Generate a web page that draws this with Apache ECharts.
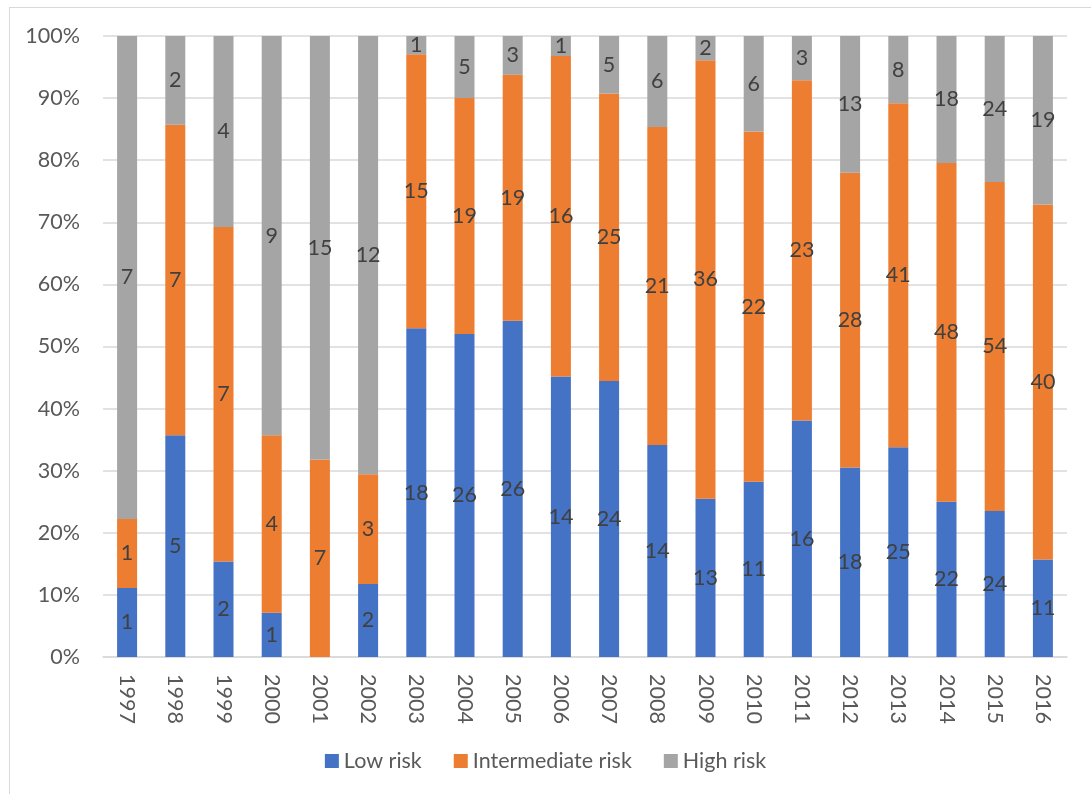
<!DOCTYPE html>
<html>
<head>
<meta charset="utf-8">
<script src="https://cdn.jsdelivr.net/npm/echarts@6/dist/echarts.min.js"></script>
<style>
  html, body { margin: 0; padding: 0; background: #ffffff; }
  #frame { position: absolute; left: 9px; top: 7px; right: 0; bottom: 0;
           border-left: 1px solid #d9d9d9; border-top: 1px solid #d9d9d9; }
  #chart { position: absolute; left: 0; top: 0; width: 1091px; height: 794px; }
</style>
</head>
<body>
<div id="frame"></div>
<div id="chart"></div>
<script>
// Years and patient counts per risk group
const years = ['1997','1998','1999','2000','2001','2002','2003','2004','2005','2006',
               '2007','2008','2009','2010','2011','2012','2013','2014','2015','2016'];
const lowRisk          = [1, 5, 2, 1, 0, 2, 18, 26, 26, 14, 24, 14, 13, 11, 16, 18, 25, 22, 24, 11];
const intermediateRisk = [1, 7, 7, 4, 7, 3, 15, 19, 19, 16, 25, 21, 36, 22, 23, 28, 41, 48, 54, 40];
const highRisk         = [7, 2, 4, 9, 15, 12, 1, 5, 3, 1, 5, 6, 2, 6, 3, 13, 8, 18, 24, 19];
const yTicks = ['0%','10%','20%','30%','40%','50%','60%','70%','80%','90%','100%'];

const totals = years.map((_, i) => lowRisk[i] + intermediateRisk[i] + highRisk[i]);
const share = arr => arr.map((v, i) => v / totals[i] * 100);

const FONT = 'Lato';
const FS = 21.5;
function makeSeries(name, counts, color) {
  return {
    name: name,
    type: 'bar',
    stack: 'total',
    barWidth: 20,
    data: share(counts),
    itemStyle: { color: color },
    label: {
      show: true,
      position: 'inside',
      color: '#404040',
      fontFamily: FONT,
      fontSize: FS,
      formatter: p => counts[p.dataIndex] === 0 ? '' : String(counts[p.dataIndex])
    }
  };
}

const chart = echarts.init(document.getElementById('chart'), null, { renderer: 'canvas' });
chart.setOption({
  animation: false,
  textStyle: { fontFamily: FONT },
  grid: { left: 103, right: 24, top: 36, bottom: 137 },
  legend: {
    bottom: 17,
    left: 'center',
    itemWidth: 14,
    itemHeight: 14,
    itemGap: 32,
    icon: 'rect',
    textStyle: { color: '#595959', fontSize: FS, fontFamily: FONT },
    data: ['Low risk', 'Intermediate risk', 'High risk']
  },
  xAxis: {
    type: 'category',
    data: years,
    axisLine: { lineStyle: { color: '#d9d9d9', width: 1.5 } },
    axisTick: { show: false },
    axisLabel: { rotate: -90, margin: 17, color: '#595959', fontSize: FS, fontFamily: FONT }
  },
  yAxis: {
    type: 'value',
    min: 0,
    max: 100,
    interval: 10,
    axisLine: { show: false },
    axisTick: { show: false },
    splitLine: { lineStyle: { color: '#d9d9d9', width: 1.5 } },
    axisLabel: {
      margin: 23,
      color: '#595959',
      fontSize: FS,
      fontFamily: FONT,
      formatter: v => yTicks[Math.round(v / 10)]
    }
  },
  series: [
    makeSeries('Low risk', lowRisk, '#4472C4'),
    makeSeries('Intermediate risk', intermediateRisk, '#ED7D31'),
    makeSeries('High risk', highRisk, '#A5A5A5')
  ]
});
</script>
</body>
</html>
